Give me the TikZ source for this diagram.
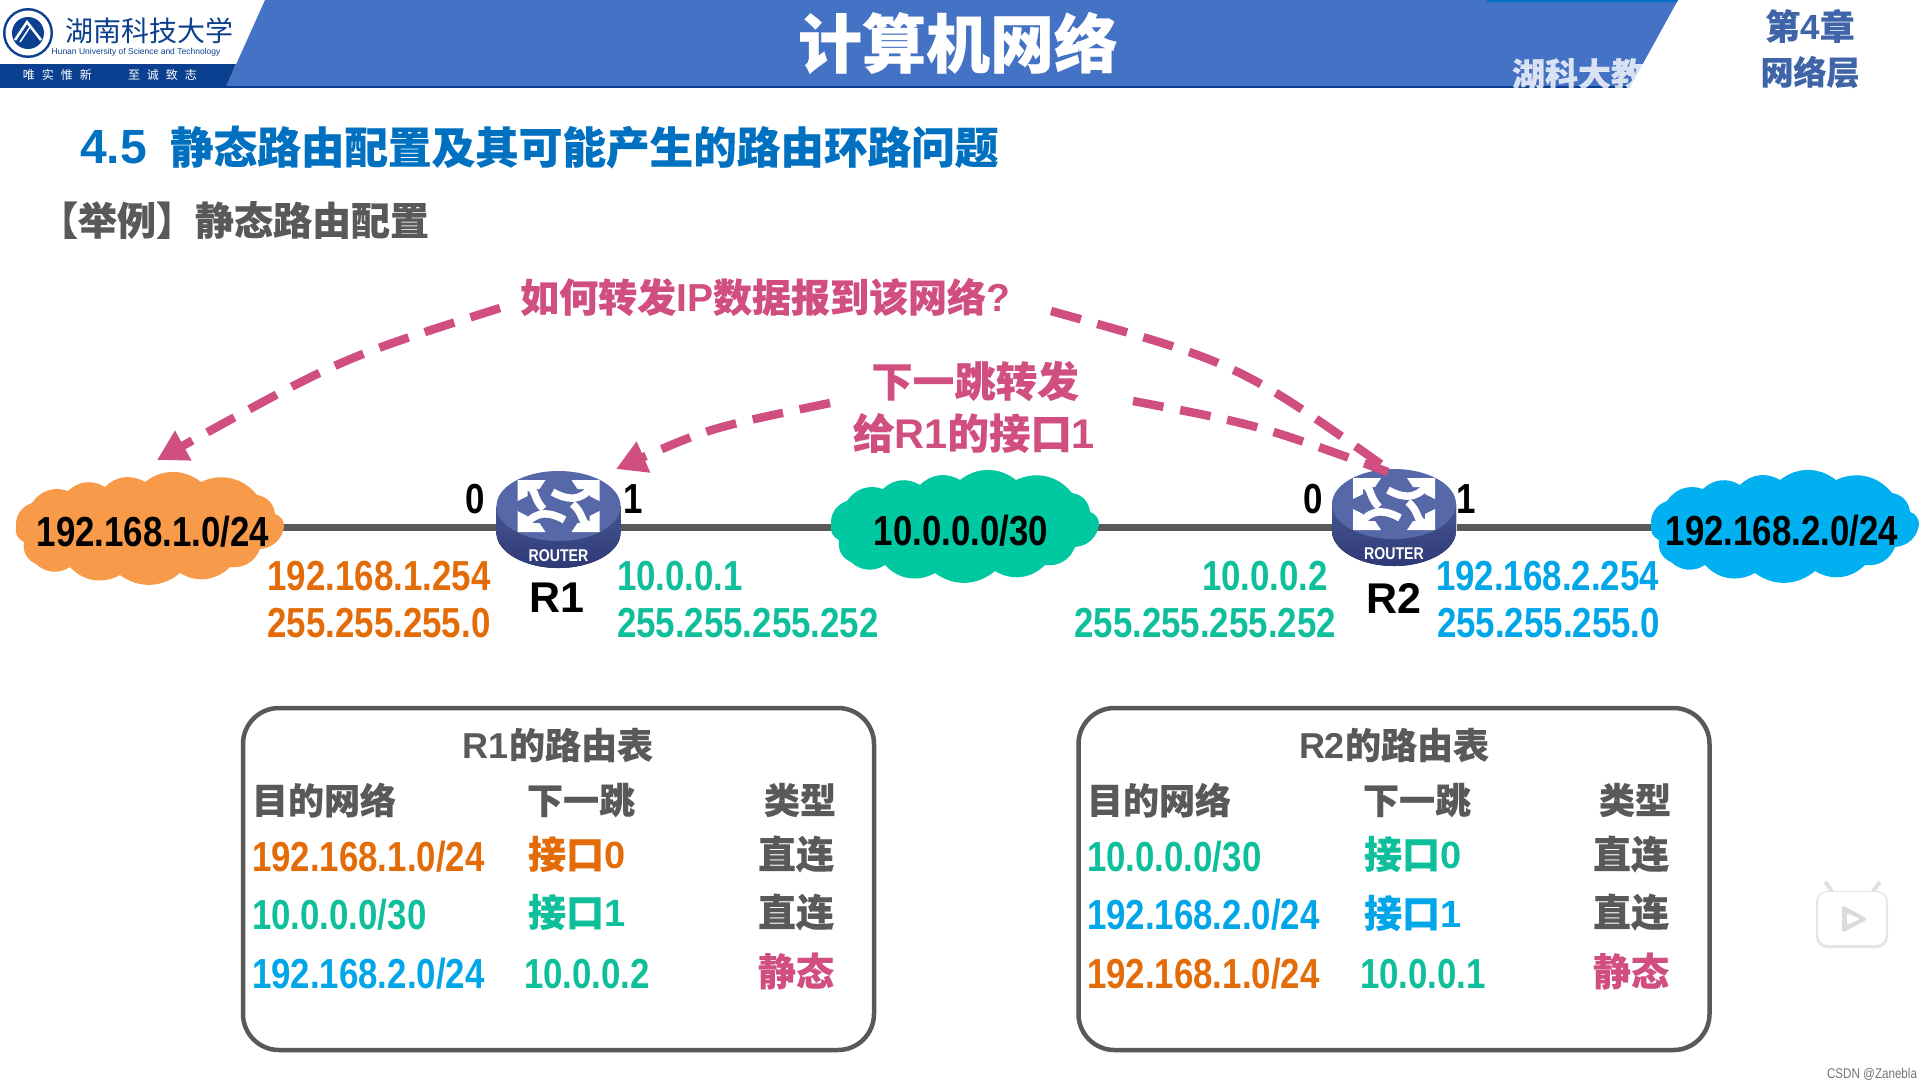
\documentclass[tikz,border=0pt]{standalone}
\usepackage{fontspec}
\usetikzlibrary{arrows.meta,backgrounds}
\setmainfont{Liberation Sans}
\newfontfamily\ipf[FakeStretch=0.83]{Liberation Sans}
\newfontfamily\plainf{Liberation Sans}
\newfontfamily\cjf[BoldFeatures={FakeBold=0.35}]{Noto Sans CJK SC}
\newcommand\ipsz[1]{\ipf\bfseries\fontsize{#1}{#1}\selectfont}
\newcommand\plsz[1]{\plainf\bfseries\fontsize{#1}{#1}\selectfont}
\newcommand\cjsz[1]{\cjf\bfseries\fontsize{#1}{#1}\selectfont}
\newcommand\ltn[1]{{\plainf\bfseries #1}}
\definecolor{hblue}{HTML}{4472C4}
\definecolor{hdark}{HTML}{0B3F8F}
\definecolor{tblue}{HTML}{0070C0}
\definecolor{tgrey}{HTML}{595959}
\definecolor{torange}{HTML}{E36C09}
\definecolor{corange}{HTML}{F79A4A}
\definecolor{tgreen}{HTML}{0FBF9B}
\definecolor{cgreen}{HTML}{00C8A0}
\definecolor{tcyan}{HTML}{00A6E8}
\definecolor{ccyan}{HTML}{00B0F0}
\definecolor{tpink}{HTML}{D04E80}
\definecolor{rtop}{HTML}{5768A8}
\definecolor{rside}{HTML}{46558F}
\definecolor{rbot}{HTML}{2E3A78}
\definecolor{hsub}{HTML}{3F65A8}
\tikzset{
  txt/.style={inner sep=0pt,outer sep=0pt},
  ip/.style={txt,font={\ipsz{42}}},
  cj/.style={txt,font={\cjsz{38}}},
  cj36/.style={txt,font={\cjsz{36}},text=tgrey},
  pinktxt/.style={txt,font={\cjsz{39}},text=tpink},
  link/.style={draw=tgrey,line width=7pt},
  pinkdash/.style={draw=tpink,line width=8.5pt,dash pattern=on 31pt off 17pt},
  pinkhead/.style={pinkdash,-{Triangle[length=30pt,width=32pt]}},
  tablebox/.style={draw=tgrey,line width=4.5pt,rounded corners=36pt,minimum width=631pt,minimum height=342pt,inner sep=0pt,outer sep=0pt},
  routernode/.style={minimum width=125pt,minimum height=86pt,inner sep=0pt,outer sep=0pt},
  puff/.style={bend left=38},
}
\newcommand\cloudart[3]{%
\fill[#3,shift={(#1,#2)}] (-134,-2) to[puff] (-118,-26) to[puff] (-82,-38) to[puff] (-45,-42) to[puff] (-5,-47) to[puff] (51,-47) to[puff] (107,-34) to[puff] (125,-15) to[puff] (134,-2) to[puff] (110,20) to[puff] (80,38) to[puff] (30,44) to[puff] (-30,46) to[puff] (-80,38) to[puff] (-114,35) to[puff] (-126,13) to[puff] cycle;
\fill[#3,shift={(#1,#2)}] (-118,-26) -- (-82,-38) -- (-45,-42) -- (-5,-47) -- (51,-47) -- (107,-34) -- (125,-15) -- (134,-2) -- (110,20) -- (80,38) -- (30,44) -- (-30,46) -- (-80,38) -- (-114,35) -- (-126,13) -- (-134,-2) -- cycle;}
\newcommand\routerart[3]{%
\begin{scope}[shift={(#1,#2)}]
  \fill[top color=rside,bottom color=rbot] (-62,0) -- (-62,27) .. controls (-62,46) and (-34,62) .. (0,62) .. controls (34,62) and (62,46) .. (62,27) -- (62,0) -- cycle;
  \fill[rtop] (0,0) ellipse [x radius=62pt,y radius=35pt];
  \foreach \sx/\sy in {1/1,-1/1,1/-1,-1/-1}{
    \fill[white,xscale=\sx,yscale=\sy] (-41,-26) -- (-13,-26) -- (-19,-17) -- (-31,-17) -- (-31,-10) -- (-41,-5) -- cycle;
  }
  \draw[white,line width=7.5pt] (-31,-19) .. controls (-22,-18) and (-26,-8) .. (-15,3);
  \draw[white,line width=7.5pt] (31,19) .. controls (22,18) and (26,8) .. (14,-2);
  \draw[white,line width=7.5pt] (33,-19) .. controls (22,-4) and (8,-6) .. (-6,-14);
  \draw[white,line width=7.5pt] (-33,19) .. controls (-22,4) and (-8,6) .. (6,14);
  \node[txt,text=white,font={\ipsz{17}}] (#3) at (0,50) {ROUTER};
\end{scope}}
\begin{document}
\begin{tikzpicture}[x=1pt,y=-1pt]
\useasboundingbox (0,0) rectangle (1920,1080);
% header
\fill[hblue] (265,0) -- (1678,0) -- (1630,87) -- (226,87) -- cycle;
\fill[tblue] (1487,0) -- (1678,0) -- (1677,2) -- (1487,2) -- cycle;
\fill[hdark] (0,64) -- (236,64) -- (226,87) -- (0,87) -- cycle;
\draw[hdark,line width=1.5pt] (0,87) -- (1630,87);
% emblem
\fill[hdark] (28,33) circle [radius=25pt];
\fill[white] (28,33) circle [radius=22.5pt];
\fill[hdark] (28,33) circle [radius=16pt];
\draw[white,line width=2.5pt] (15,40) -- (27,22) -- (41,40);
\draw[white,line width=1.5pt] (20,42) -- (30,27);
\node[txt,text=hdark,font={\cjf\fontsize{28}{28}\selectfont}] (school) at (149,31) {湖南科技大学};
\node[txt,text=hdark,font={\plainf\fontsize{8.5}{8.5}\selectfont}] (schoolen) at (136,52) {Hunan University of Science and Technology};
\node[txt,text=white,font={\cjf\fontsize{12}{12}\selectfont}] (motto) at (110,75) {唯\hspace{7pt}实\hspace{7pt}惟\hspace{7pt}新\hspace{36pt}至\hspace{7pt}诚\hspace{7pt}致\hspace{7pt}志};
\node[txt,text=white,font={\cjsz{64}}] (title) at (958,43) {计算机网络};
\node[txt,anchor=west,text=white,opacity=.8,font={\cjsz{33}}] (wm) at (1512,74) {湖科大教书匠};
\node[txt,text=hsub,font={\cjsz{35}}] (chap) at (1810,26) {第{\plsz{35}4}章};
\node[txt,text=hsub,font={\cjsz{33}}] (layer) at (1810,72) {网络层};
% headings
\node[txt,anchor=west,text=tblue,font={\plsz{48}}] (secno) at (80,147) {4.5};
\node[txt,anchor=west,text=tblue,font={\cjsz{43.6}}] (sec) at (170,147) {静态路由配置及其可能产生的路由环路问题};
\node[txt,anchor=west,text=tgrey,font={\cjsz{39}}] (eg) at (39,220) {【举例】静态路由配置};
% clouds
\cloudart{150}{529}{corange}
\cloudart{965}{527}{cgreen}
\cloudart{1785}{527}{ccyan}
\node[ip] (ca) at (153,532) {192.168.1.0/24};
\node[ip] (cb) at (961,531) {10.0.0.0/30};
\node[ip] (cc) at (1782,531) {192.168.2.0/24};
% routers
\routerart{558.5}{506}{rlabA}
\routerart{1394}{504}{rlabB}
\node[routernode] (r1) at (558.5,527) {};
\node[routernode] (r2) at (1394,527) {};
\begin{scope}[on background layer]
  \draw[link] (r1 -| ca) -- (r1);
  \draw[link] (r1) -- (r1 -| cb);
  \draw[link] (r2 -| cb) -- (r2);
  \draw[link] (r2) -- (r2 -| cc);
\end{scope}
\node[ip] (p0a) at (475,499) {0};
\node[ip] (p1a) at (633,499) {1};
\node[ip] (p0b) at (1313,499) {0};
\node[ip] (p1b) at (1466,499) {1};
\node[txt,font={\plsz{43}}] (nameA) at (557,598) {R1};
\node[txt,font={\plsz{43}}] (nameB) at (1394,598) {R2};
% interface labels
\node[ip,text=torange] (a1) at (379,576) {192.168.1.254};
\node[ip,text=torange] (a2) at (379,623) {255.255.255.0};
\node[ip,text=tgreen,anchor=west] (a3) at (617,576) {10.0.0.1};
\node[ip,text=tgreen,anchor=west] (a4) at (617,623) {255.255.255.252};
\node[ip,text=tgreen,anchor=east] (b1) at (1328,576) {10.0.0.2};
\node[ip,text=tgreen,anchor=east] (b2) at (1336,623) {255.255.255.252};
\node[ip,text=tcyan,anchor=west] (b3) at (1436,576) {192.168.2.254};
\node[ip,text=tcyan,anchor=west] (b4) at (1437,623) {255.255.255.0};
% pink labels and connectors
\node[pinktxt] (qa) at (765,297) {如何转发\ltn{IP}数据报到该网络\ltn{?}};
\node[pinktxt,font={\cjsz{41.5}}] (qb) at (975,381) {下一跳转发};
\node[pinktxt,font={\cjsz{41.5}}] (qc) at (974,433) {给\ltn{R1}的接口\ltn{1}};
\coordinate (s1) at (500,308);
\coordinate (s2) at (1051,311);
\coordinate (s3) at (830,403);
\coordinate (s4) at (1133,401);
\coordinate (tipa) at (157,460);
\coordinate (tipb) at (616,469);
\coordinate (topR2a) at (1392,472);
\coordinate (topR2b) at (1388,472);
\draw[pinkhead] (s1) .. controls (342,358) .. (tipa);
\draw[pinkdash] (s2) .. controls (1238,363) .. (topR2a);
\draw[pinkhead] (s3) .. controls (710,428) .. (tipb);
\draw[pinkdash] (s4) .. controls (1259,425) .. (topR2b);
% table R1
\node[tablebox] (t1) at (558.5,879) {};
\node[cj36] (t1t) at (558,745) {{\plsz{36}R1}的路由表};
\node[cj36,anchor=west] (t1a) at (252,800) {目的网络};
\node[cj36] (t1b) at (581,800) {下一跳};
\node[cj36] (t1c) at (800,800) {类型};
\node[ip,text=torange,anchor=west] (t1r1a) at (252,857) {192.168.1.0/24};
\node[cj,text=torange,anchor=west] (t1r1b) at (528,854) {接口\ltn{0}};
\node[cj,text=tgrey] (t1r1c) at (796,854) {直连};
\node[ip,text=tgreen,anchor=west] (t1r2a) at (252,915) {10.0.0.0/30};
\node[cj,text=tgreen,anchor=west] (t1r2b) at (528,912) {接口\ltn{1}};
\node[cj,text=tgrey] (t1r2c) at (796,912) {直连};
\node[ip,text=tcyan,anchor=west] (t1r3a) at (252,974) {192.168.2.0/24};
\node[ip,text=tgreen,anchor=west] (t1r3b) at (524,974) {10.0.0.2};
\node[cj,text=tpink] (t1r3c) at (796,971) {静态};
% table R2
\node[tablebox] (t2) at (1394,879) {};
\node[cj36] (t2t) at (1394,745) {{\plsz{36}R2}的路由表};
\node[cj36,anchor=west] (t2a) at (1087,800) {目的网络};
\node[cj36] (t2b) at (1417,800) {下一跳};
\node[cj36] (t2c) at (1635,800) {类型};
\node[ip,text=tgreen,anchor=west] (t2r1a) at (1087,857) {10.0.0.0/30};
\node[cj,text=tgreen,anchor=west] (t2r1b) at (1364,854) {接口\ltn{0}};
\node[cj,text=tgrey] (t2r1c) at (1631,854) {直连};
\node[ip,text=tcyan,anchor=west] (t2r2a) at (1087,915) {192.168.2.0/24};
\node[cj,text=tcyan,anchor=west] (t2r2b) at (1364,913) {接口\ltn{1}};
\node[cj,text=tgrey] (t2r2c) at (1631,912) {直连};
\node[ip,text=torange,anchor=west] (t2r3a) at (1087,974) {192.168.1.0/24};
\node[ip,text=tgreen,anchor=west] (t2r3b) at (1360,974) {10.0.0.1};
\node[cj,text=tpink] (t2r3c) at (1631,971) {静态};
% play icon
\draw[black!12,line width=4pt,line cap=round] (1833,893) -- (1826,883);
\draw[black!12,line width=4pt,line cap=round] (1872,893) -- (1879,883);
\fill[black!10,rounded corners=11pt] (1816,891) rectangle (1888,948);
\fill[white,rounded corners=10pt] (1818,892) rectangle (1886,945);
\fill[black!14,rounded corners=3pt] (1842,905) -- (1868,919) -- (1842,933) -- cycle;
\fill[white,rounded corners=2pt] (1847,913) -- (1860,919) -- (1847,925) -- cycle;
\node[txt,anchor=east,text=black!55,font={\ipf\fontsize{14}{14}\selectfont}] (csdn) at (1917,1074) {CSDN @Zanebla};
\end{tikzpicture}
\end{document}
